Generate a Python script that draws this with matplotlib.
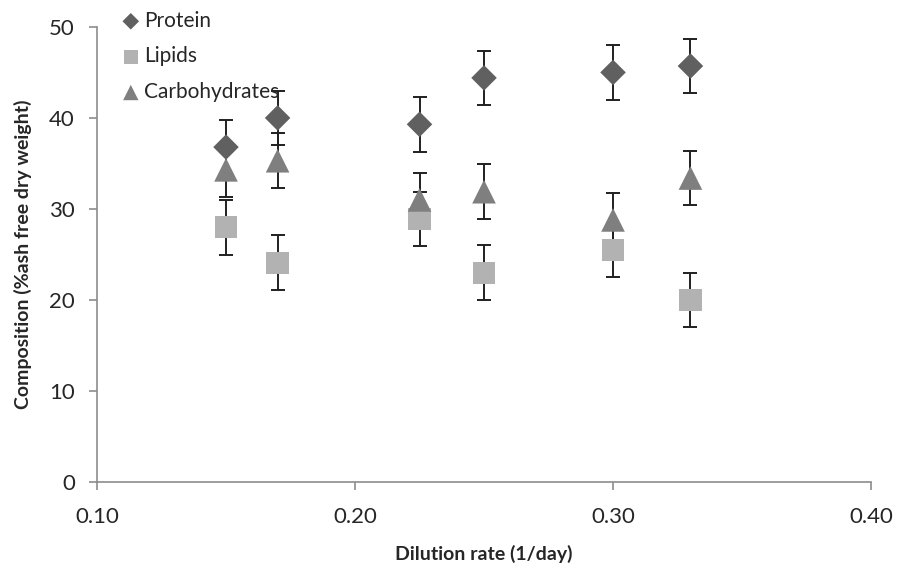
import numpy as np
import matplotlib
matplotlib.use("Agg")
import matplotlib.pyplot as plt

plt.rcParams["font.family"] = ["Lato", "DejaVu Sans"]

dilution = [0.15, 0.17, 0.225, 0.25, 0.30, 0.33]

protein = [36.8, 40.0, 39.3, 44.4, 45.0, 45.7]
lipids = [28.0, 24.1, 28.9, 23.0, 25.5, 20.0]
carbs = [34.3, 35.3, 31.0, 31.9, 28.8, 33.4]

protein_err = [3.0, 3.0, 3.0, 3.0, 3.0, 3.0]
lipids_err = [3.0, 3.0, 3.0, 3.0, 3.0, 3.0]
carbs_err = [3.0, 3.0, 3.0, 3.0, 3.0, 3.0]

fig = plt.figure(figsize=(8.98, 5.72), dpi=100)
ax = fig.add_axes([0.108, 0.157, 0.862, 0.796])

series = [
    ("Protein", protein, protein_err, "D", "#606060", 13),
    ("Lipids", lipids, lipids_err, "s", "#b2b2b2", 16),
    ("Carbohydrates", carbs, carbs_err, "^", "#7f7f7f", 17),
]

handles = []
for name, vals, err, mk, col, ms in series:
    ax.errorbar(dilution, vals, yerr=err, fmt="none", ecolor="#202020",
                elinewidth=1.4, capsize=5, capthick=1.4, zorder=2)
    h = ax.scatter(dilution, vals, marker=mk, s=ms ** 2, color=col,
                   edgecolors="none", zorder=3, label=name)
    handles.append(h)

ax.set_xlim(0.10, 0.40)
ax.set_ylim(0, 50)
ax.set_xticks([0.10, 0.20, 0.30, 0.40])
ax.set_xticklabels(["0.10", "0.20", "0.30", "0.40"])
ax.set_yticks([0, 10, 20, 30, 40, 50])

for side in ["top", "right"]:
    ax.spines[side].set_visible(False)
for side in ["left", "bottom"]:
    ax.spines[side].set_color("#8c8c8c")
    ax.spines[side].set_linewidth(1.2)
ax.tick_params(axis="both", colors="#8c8c8c", length=6, width=1.2,
               labelsize=16, labelcolor="#262626")
ax.tick_params(axis="x", pad=12)
ax.tick_params(axis="y", pad=10)

ax.set_xlabel("Dilution rate (1/day)", fontsize=14, fontweight="bold",
              color="#262626", labelpad=13)
ax.set_ylabel("Composition (%ash free dry weight)", fontsize=14,
              fontweight="bold", color="#262626", labelpad=12)

leg = fig.legend(handles=handles, loc="upper left",
                 bbox_to_anchor=(0.112, 1.014), frameon=False, fontsize=15,
                 handletextpad=0.1, labelspacing=0.75, markerscale=0.65,
                 handlelength=1.1)
for t in leg.get_texts():
    t.set_color("#262626")

fig.savefig("out.png", dpi=100)
